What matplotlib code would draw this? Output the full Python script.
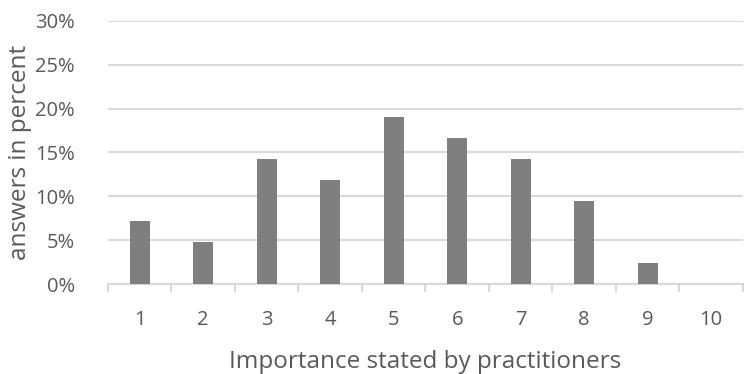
import matplotlib.pyplot as plt
import numpy as np
from matplotlib.ticker import FuncFormatter, MultipleLocator

categories = ["1", "2", "3", "4", "5", "6", "7", "8", "9", "10"]
share = [7.14, 4.76, 14.29, 11.90, 19.05, 16.67, 14.29, 9.52, 2.38, 0.0]

BAR_COLOR = "#7f7f7f"
GRID_COLOR = "#d9d9d9"
TEXT_COLOR = "#595959"

plt.rcParams["font.family"] = ["Open Sans", "DejaVu Sans"]

fig = plt.figure(figsize=(7.55, 3.74), dpi=100)
ax = fig.add_axes([0.143, 0.2406, 0.841, 0.7033])

x = np.arange(len(categories))
ax.bar(x, share, width=0.315, color=BAR_COLOR, zorder=3)

ax.set_xlim(-0.5, len(categories) - 0.5)
ax.set_ylim(0, 30)
ax.yaxis.set_major_locator(MultipleLocator(5))
ax.yaxis.set_major_formatter(FuncFormatter(lambda v, _: f"{v:.0f}%"))
ax.grid(axis="y", color=GRID_COLOR, linewidth=1.5, zorder=0)

ax.set_xticks(x)
ax.set_xticklabels(categories)
ax.set_xticks(np.arange(-0.5, len(categories)), minor=True)
ax.tick_params(axis="x", which="major", length=0, pad=19, labelsize=14.5, labelcolor=TEXT_COLOR)
ax.tick_params(axis="x", which="minor", length=6, width=1.5, color=GRID_COLOR)
ax.tick_params(axis="y", length=0, pad=24, labelsize=14.5, labelcolor=TEXT_COLOR)

for side in ("top", "right", "left"):
    ax.spines[side].set_visible(False)
ax.spines["bottom"].set_color(GRID_COLOR)
ax.spines["bottom"].set_linewidth(1.5)

ax.set_xlabel("Importance stated by practitioners", fontsize=17.5, color=TEXT_COLOR, labelpad=14)
ax.set_ylabel("answers in percent", fontsize=17.5, color=TEXT_COLOR, labelpad=2)

fig.savefig("out.png", dpi=100, facecolor="white")
